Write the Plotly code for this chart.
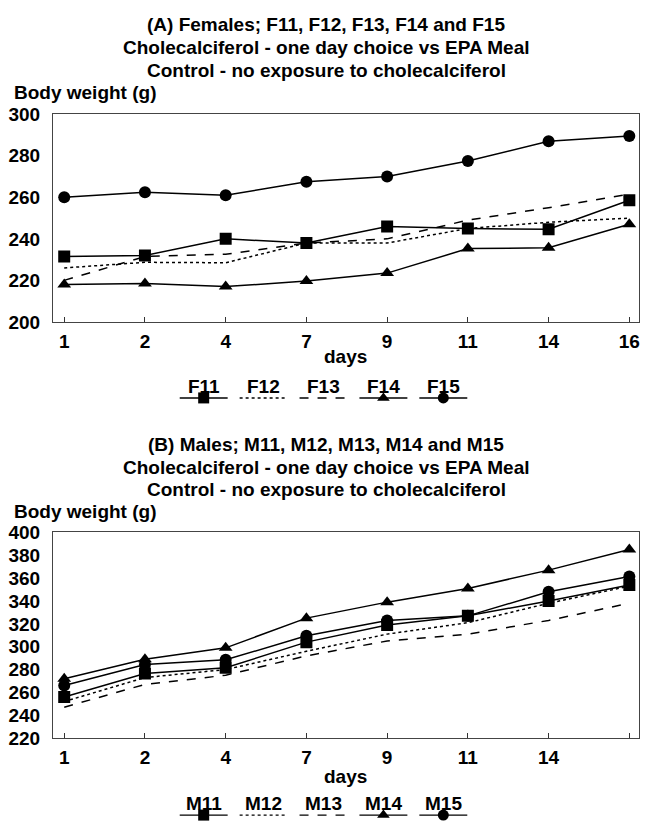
import plotly.graph_objects as go

days = ["1", "2", "4", "7", "9", "11", "14", "16"]
days_m_labels = ["1", "2", "4", "7", "9", "11", "14", ""]

f_names = ["F11", "F12", "F13", "F14", "F15"]
F11 = [231.5, 232, 240, 238, 246, 245, 244.6, 258.6]
F12 = [226, 228.7, 228.5, 238, 238, 245, 248, 250]
F13 = [220, 231.5, 232.6, 238, 240, 249, 255, 261.5]
F14 = [218, 218.5, 217, 219.7, 223.5, 235.3, 235.7, 247]
F15 = [260, 262.5, 261, 267.5, 270, 277.5, 287, 289.5]

m_names = ["M11", "M12", "M13", "M14", "M15"]
M11 = [256, 276.5, 281.5, 304, 319, 327, 340, 354]
M12 = [252, 273, 280, 296, 311, 321, 338, 353]
M13 = [247, 267, 275, 292, 305, 311, 323, 338]
M14 = [272, 289, 299, 325, 339, 351, 367, 385]
M15 = [266, 284.5, 288.5, 309.5, 323, 327, 348, 361.5]

W, H = 649, 830
FONT = "Liberation Sans"
FS = 19


def py(y):
    return 1 - y / H


def px(x):
    return x / W


styles = [
    dict(dash="solid", symbol="square"),
    dict(dash="dot", symbol=None),
    dict(dash="dash", symbol=None),
    dict(dash="solid", symbol="triangle-up"),
    dict(dash="solid", symbol="circle"),
]

fig = go.Figure()
xpos = list(range(len(days)))


def add_series(vals, st, xa, ya):
    mode = "lines+markers" if st["symbol"] else "lines"
    fig.add_trace(go.Scatter(
        x=xpos, y=vals, mode=mode, xaxis=xa, yaxis=ya,
        line=dict(color="black", width=1.5, dash=st["dash"]),
        marker=dict(symbol=st["symbol"] or "circle", size=12, color="black"),
        showlegend=False, hoverinfo="skip"))


for vals, st in zip([F11, F12, F13, F14, F15], styles):
    add_series(vals, st, "x", "y")
for vals, st in zip([M11, M12, M13, M14, M15], styles):
    add_series(vals, st, "x2", "y2")


def add_legend(names, xa, ya):
    for i, (nm, st) in enumerate(zip(names, styles)):
        fig.add_trace(go.Scatter(
            x=[i - 0.4, i, i + 0.4], y=[0, 0, 0], mode="lines", xaxis=xa, yaxis=ya,
            line=dict(color="black", width=1.4, dash=st["dash"]),
            showlegend=False, hoverinfo="skip", cliponaxis=False))
        if st["symbol"]:
            fig.add_trace(go.Scatter(
                x=[i], y=[0], mode="markers", xaxis=xa, yaxis=ya,
                marker=dict(symbol=st["symbol"], size=11, color="black"),
                showlegend=False, hoverinfo="skip", cliponaxis=False))


add_legend(f_names, "x3", "y3")
add_legend(m_names, "x4", "y4")

bold_font = dict(family=FONT, size=FS, color="black", weight="bold")
xdom = [px(53), px(640)]
xr = [-0.14, 7.12]
common_x = dict(domain=xdom, range=xr, tickmode="array", tickvals=xpos,
                showline=True, mirror=True, linecolor="#444", linewidth=1,
                ticks="inside", ticklen=5, tickcolor="#333", showgrid=False, zeroline=False,
                ticklabelstandoff=2, tickfont=bold_font)
common_y = dict(showline=True, mirror=True, linecolor="#444", linewidth=1,
                ticks="", showgrid=False, zeroline=False, ticklabelstandoff=8,
                tickfont=bold_font)

leg_x = dict(domain=[px(174), px(474)], range=[-0.5, 4.5], visible=False)

fig.update_layout(
    width=W, height=H, margin=dict(l=0, r=0, t=0, b=0),
    paper_bgcolor="white", plot_bgcolor="white", showlegend=False,
    font=dict(family=FONT, color="black"),
    xaxis=dict(common_x, anchor="y", ticktext=days),
    yaxis=dict(common_y, anchor="x", domain=[py(320), py(107)], range=[200, 300],
               tickvals=[200, 220, 240, 260, 280, 300]),
    xaxis2=dict(common_x, anchor="y2", ticktext=days_m_labels),
    yaxis2=dict(common_y, anchor="x2", domain=[py(747), py(536)], range=[220, 400],
                tickvals=list(range(220, 401, 20))),
    xaxis3=dict(leg_x, anchor="y3"),
    yaxis3=dict(domain=[py(405), py(391)], range=[-1, 1], visible=False, anchor="x3"),
    xaxis4=dict(leg_x, anchor="y4"),
    yaxis4=dict(domain=[py(830), py(822)], range=[-1, 1], visible=False, anchor="x4"),
)

ann = []


def txt(text, x, y, xanchor="center"):
    ann.append(dict(text=text, x=px(x), y=py(y), xref="paper", yref="paper",
                    showarrow=False, xanchor=xanchor, yanchor="middle",
                    font=bold_font))


cx = 327
for i, line in enumerate(["(A) Females; F11, F12, F13, F14 and F15",
                          "Cholecalciferol - one day choice vs EPA Meal",
                          "Control - no exposure to cholecalciferol"]):
    txt(line, cx, 15 + 23.5 * i)
txt("Body weight (g)", 12, 85, xanchor="left")
txt("days", 346, 355)

for i, line in enumerate(["(B) Males; M11, M12, M13, M14 and M15",
                          "Cholecalciferol - one day choice vs EPA Meal",
                          "Control - no exposure to cholecalciferol"]):
    txt(line, cx, 446 + 23 * i)
txt("Body weight (g)", 12, 515, xanchor="left")
txt("days", 346, 786)

for i, nm in enumerate(f_names):
    ann.append(dict(text=nm, x=i, y=py(386), xref="x3", yref="paper",
                    showarrow=False, xanchor="center", yanchor="middle", font=bold_font))
for i, nm in enumerate(m_names):
    ann.append(dict(text=nm, x=i, y=py(814), xref="x4", yref="paper",
                    showarrow=False, xanchor="center", yanchor="middle", font=bold_font))

fig.update_layout(annotations=ann)
fig.write_html("out.html")
